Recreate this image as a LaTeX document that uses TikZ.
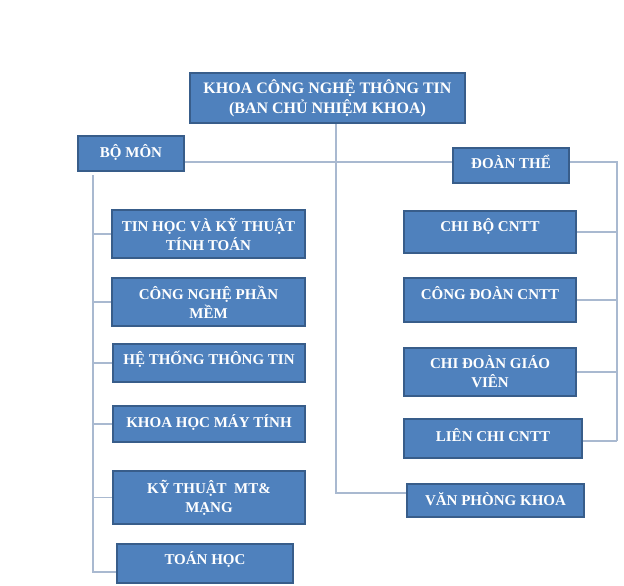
\documentclass[tikz,border=0pt]{standalone}
\usepackage{fontspec}
\setmainfont{Liberation Serif}
\usetikzlibrary{backgrounds}
\definecolor{boxfill}{HTML}{4F81BD}
\definecolor{boxline}{HTML}{385D8A}
\definecolor{conn}{HTML}{A9B9D0}
\tikzset{
  orgbox/.style={draw=boxline, line width=2pt, fill=boxfill, text=white,
    font=\fontsize{15}{19}\selectfont\bfseries, align=center, inner sep=1pt},
  lift/.style={text height=11pt, text depth=#1pt},
  link/.style={draw=conn, line width=1.6pt}
}
\begin{document}
\begin{tikzpicture}[x=1pt,y=-1pt]
\useasboundingbox (0,0) rectangle (624,586);
\node[orgbox, font=\fontsize{16}{20}\selectfont\bfseries, minimum width=275pt, minimum height=50pt] (top) at (327.5,98) {KHOA CÔNG NGHỆ THÔNG TIN\\(BAN CHỦ NHIỆM KHOA)};
\node[orgbox, lift=4, minimum width=106pt, minimum height=35pt] (bomon) at (131,153.5) {BỘ MÔN};
\node[orgbox, minimum width=193pt, minimum height=48pt] (tinhoc) at (208.5,234) {TIN HỌC VÀ KỸ THUẬT\\TÍNH TOÁN};
\node[orgbox, minimum width=193pt, minimum height=48pt] (cnpm) at (208.5,302) {CÔNG NGHỆ PHẦN\\MỀM};
\node[orgbox, lift=9, minimum width=192pt, minimum height=38pt] (httt) at (209,363) {HỆ THỐNG THÔNG TIN};
\node[orgbox, lift=5, minimum width=192pt, minimum height=36pt] (khmt) at (209,424) {KHOA HỌC MÁY TÍNH};
\node[orgbox, minimum width=192pt, minimum height=53pt] (ktmt) at (209,497.5) {KỸ THUẬT\ \ MT\&\\MẠNG};
\node[orgbox, lift=10, minimum width=176pt, minimum height=39pt] (toan) at (205,563.5) {TOÁN HỌC};
\node[orgbox, lift=6, minimum width=116pt, minimum height=35pt] (doanthe) at (511,165.5) {ĐOÀN THỂ};
\node[orgbox, lift=13, minimum width=172pt, minimum height=42pt] (chibo) at (490,232) {CHI BỘ CNTT};
\node[orgbox, lift=13, minimum width=172pt, minimum height=44pt] (congdoan) at (490,300) {CÔNG ĐOÀN CNTT};
\node[orgbox, minimum width=172pt, minimum height=48pt] (chidoan) at (490,372) {CHI ĐOÀN GIÁO\\VIÊN};
\node[orgbox, lift=6, minimum width=178pt, minimum height=39pt] (lienchi) at (493,438.5) {LIÊN CHI CNTT};
\node[orgbox, lift=2, minimum width=177pt, minimum height=33pt] (vpk) at (495.5,500.5) {VĂN PHÒNG KHOA};
\coordinate (lefttop) at (93,175);
\coordinate (leftbot) at (93,572);
\coordinate (rtop) at (617,162);
\coordinate (rbot) at (617,441);
\coordinate (midbot) at (336,493);
\begin{scope}[on background layer]
\draw[link] (top.south -| midbot) -- (midbot) -- (midbot -| vpk.west);
\draw[link] (bomon.east |- rtop) -- (doanthe.west |- rtop);
\draw[link] (doanthe.east |- rtop) -- (rtop) -- (rbot);
\draw[link] (lefttop) -- (leftbot) -- (leftbot -| toan.west);
\draw[link] (lefttop |- tinhoc.west) -- (tinhoc.west);
\draw[link] (lefttop |- cnpm.west) -- (cnpm.west);
\draw[link] (lefttop |- httt.west) -- (httt.west);
\draw[link] (lefttop |- khmt.west) -- (khmt.west);
\draw[link] (lefttop |- ktmt.west) -- (ktmt.west);
\draw[link] (chibo.east) -- (chibo.east -| rtop);
\draw[link] (congdoan.east) -- (congdoan.east -| rtop);
\draw[link] (chidoan.east) -- (chidoan.east -| rtop);
\draw[link] (lienchi.east |- rbot) -- (rbot);
\end{scope}
\end{tikzpicture}
\end{document}
